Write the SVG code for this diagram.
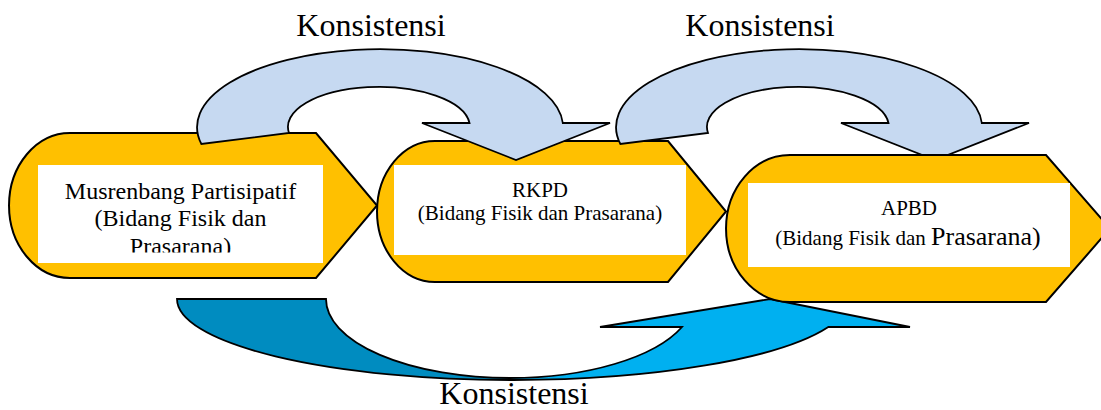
<svg xmlns="http://www.w3.org/2000/svg" width="1101" height="410" viewBox="0 0 1101 410">
<style>
.node{fill:#FFC000;stroke:#000;stroke-width:2;stroke-linejoin:miter}
.box{fill:#FFFFFF}
.arr{stroke:#000;stroke-width:1.8;stroke-linejoin:miter}
.light{fill:#C6D9F1}
.bright{fill:#00B0F0}
.dark{fill:#008CC0}
text{font-family:"Liberation Serif","Times New Roman",serif;fill:#000}
.lbl{font-size:32px;text-anchor:middle}
.t24{font-size:24px;text-anchor:middle}
.t21{font-size:21px;text-anchor:middle}
</style>
<defs>
<clipPath id="clip1"><rect x="38" y="165" width="285" height="87.5"/></clipPath>
</defs>
<rect width="1101" height="410" fill="#FFFFFF"/>
<g id="node-musrenbang">
<path class="node" d="M70,133 L316,133 L377,205.5 L316,278 L70,278 A61,72.5 0 0 1 70,133 Z"/>
<rect class="box" x="38" y="165" width="285" height="98"/>
<g clip-path="url(#clip1)">
<text class="t24" x="180.5" y="199">Musrenbang Partisipatif</text>
<text class="t24" x="180.5" y="226">(Bidang Fisik dan</text>
<text class="t24" x="180.5" y="254">Prasarana)</text>
</g>
</g>
<g id="node-rkpd">
<path class="node" d="M435,141 L668,141 L726,211.5 L668,282 L435,282 A58,70.5 0 0 1 435,141 Z"/>
<rect class="box" x="394" y="165" width="292" height="90"/>
<text class="t21" x="540" y="197">RKPD</text>
<text class="t21" x="540" y="220">(Bidang Fisik dan Prasarana)</text>
</g>
<g id="connectors">
<path class="arr light" d="M201.4,144 A183,78 0 1 1 562.8,123 L610,123 L516,160 L422,123 L469.5,123 A91,40 0 1 0 289,133 Z"/>
<path class="arr light" d="M620.4,144 A183,78 0 1 1 981.8,123 L1029,123 L935,160 L841,123 L888.5,123 A91,40 0 1 0 708,133 Z"/>
<path class="arr dark" d="M177,299 L326,299 A184,79 0 0 0 510,378 L513,380 A336,81 0 0 1 177,299 Z"/>
<path class="arr bright" d="M513,380 A336,81 0 0 0 828.3,327 L910,327 L770,299 L600,327 L682,327 A184,79 0 0 1 510,378 Z"/>
<text class="lbl" x="371" y="36">Konsistensi</text>
<text class="lbl" x="760" y="36">Konsistensi</text>
<text class="lbl" x="514" y="404">Konsistensi</text>
</g>
<g id="node-apbd">
<path class="node" d="M790,155 L1046,155 L1110,228.5 L1046,302 L790,302 A64,73.5 0 0 1 790,155 Z"/>
<rect class="box" x="748" y="183" width="322" height="84"/>
<text class="t21" x="909" y="215">APBD</text>
<text class="t21" x="908" y="245">(Bidang Fisik dan <tspan font-size="26px">Prasarana)</tspan></text>
</g>
</svg>
